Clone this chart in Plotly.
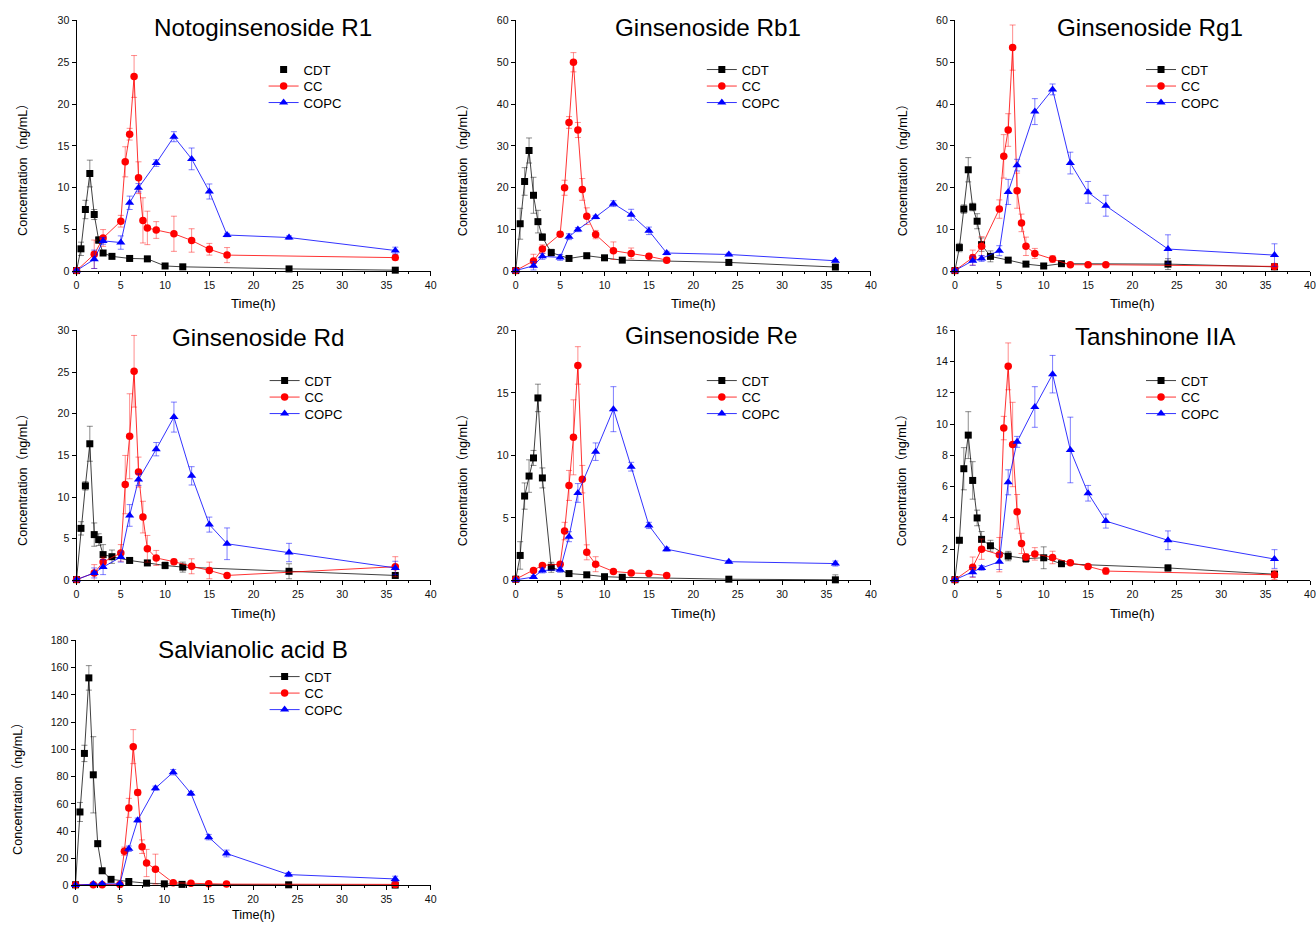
import plotly.graph_objects as go

# ---------------- DATA ----------------
T_CDT = [0, 0.5, 1, 1.5, 2, 2.5, 3, 4, 6, 8, 10, 12, 24, 36]
T_CC = [0, 2, 3, 5, 5.5, 6, 6.5, 7, 7.5, 8, 9, 11, 13, 15, 17, 36]
T_COPC = [0, 2, 3, 5, 6, 7, 9, 11, 13, 15, 17, 24, 36]

SERIES = ["CDT", "CC", "COPC"]
COMPOUNDS = ["Notoginsenoside R1", "Ginsenoside Rb1", "Ginsenoside Rg1",
             "Ginsenoside Rd", "Ginsenoside Re", "Tanshinone IIA",
             "Salvianolic acid B"]
Y_MAX = [30, 60, 60, 30, 20, 16, 180]
Y_DTICK = [5, 10, 10, 5, 5, 2, 20]
X_TICKS = [0, 5, 10, 15, 20, 25, 30, 35, 40]

# Notoginsenoside R1
R1_CDT = [0.1, 2.7, 7.4, 11.7, 6.8, 3.75, 2.2, 1.8, 1.55, 1.5, 0.65, 0.55, 0.3, 0.15]
R1_CDT_SD = [0, 0.8, 1.1, 1.6, 0.6, 0.4, 0.3, 0.2, 0.3, 0.3, 0.2, 0.1, 0.1, 0.1]
R1_CC = [0.1, 2.05, 4.0, 6.0, 13.1, 16.4, 23.3, 11.2, 6.1, 5.2, 4.95, 4.5, 3.7, 2.65, 1.95, 1.65]
R1_CC_SD = [0, 1.7, 1.0, 0.7, 1.8, 0.7, 2.5, 1.9, 2.7, 2.0, 1.0, 2.1, 1.4, 0.7, 0.9, 0.3]
R1_COPC = [0.1, 1.45, 3.65, 3.45, 8.2, 10.0, 12.95, 16.1, 13.45, 9.55, 4.35, 4.05, 2.5]
R1_COPC_SD = [0, 1.1, 0.4, 0.8, 0.8, 0.5, 0.4, 0.6, 1.3, 0.9, 0.2, 0.2, 0.4]

# Ginsenoside Rb1
RB1_CDT = [0.2, 11.4, 21.5, 28.9, 18.2, 11.9, 8.2, 4.5, 3.1, 3.75, 3.25, 2.7, 2.15, 1.05]
RB1_CDT_SD = [0, 3.7, 3.3, 3.0, 4.3, 2.7, 0.8, 0.8, 0.5, 0.6, 0.5, 0.3, 0.6, 0.5]
RB1_CC = [0.2, 2.5, 5.35, 8.9, 20.0, 35.6, 50.0, 33.8, 19.6, 13.2, 8.8, 4.95, 4.3, 3.6, 2.7, None]
RB1_CC_SD = [0, 1.6, 1.0, 0.5, 1.8, 1.4, 2.3, 1.8, 2.6, 2.0, 1.0, 2.1, 1.3, 0.5, 0.6, 0]
RB1_COPC = [0.2, 1.35, 3.6, 3.35, 8.3, 10.0, 13.0, 16.2, 13.55, 9.7, 4.4, 4.05, 2.55]
RB1_COPC_SD = [0, 1.0, 0.7, 0.7, 0.7, 0.5, 0.4, 0.7, 1.3, 0.9, 0.4, 0.3, 0.3]

# Ginsenoside Rg1
RG1_CDT = [0.2, 5.7, 14.9, 24.3, 15.4, 12.0, 6.4, 3.6, 2.7, 1.75, 1.3, 1.85, 1.75, 1.1]
RG1_CDT_SD = [0, 1.0, 1.0, 2.9, 0.9, 1.8, 1.6, 1.3, 0.4, 0.3, 0.3, 0.3, 1.3, 0.4]
RG1_CC = [0.2, 3.3, 6.0, 14.9, 27.5, 33.8, 53.5, 19.3, 11.6, 6.0, 4.3, 2.95, 1.6, 1.6, 1.6, 1.2]
RG1_CC_SD = [0, 1.8, 2.3, 2.2, 5.2, 3.9, 5.4, 4.2, 2.1, 2.2, 1.2, 0.8, 0.2, 0.2, 0.2, 0.3]
RG1_COPC = [0.2, 2.55, 3.1, 4.95, 19.0, 25.4, 38.2, 43.5, 25.9, 18.9, 15.7, 5.35, 3.9]
RG1_COPC_SD = [0, 1.1, 0.7, 1.2, 3.0, 1.4, 3.1, 1.3, 2.6, 2.6, 2.5, 3.4, 2.7]

# Ginsenoside Rd
RD_CDT = [0.1, 6.25, 11.35, 16.4, 5.5, 4.9, 3.1, 2.85, 2.4, 2.1, 1.8, 1.6, 1.1, 0.6]
RD_CDT_SD = [0, 0.8, 0.5, 2.1, 1.4, 0.7, 1.2, 0.8, 0.3, 0.3, 0.4, 0.6, 0.9, 0.2]
RD_CC = [0.1, 0.9, 2.2, 3.3, 11.5, 17.3, 25.1, 13.0, 7.6, 3.8, 2.7, 2.25, 1.7, 1.2, 0.6, 1.65]
RD_CC_SD = [0, 1.0, 0.6, 1.0, 3.5, 5.1, 4.3, 1.8, 1.9, 1.6, 0.9, 0.3, 0.9, 1.0, 0.2, 1.2]
RD_COPC = [0.1, 0.9, 1.6, 2.8, 7.8, 12.1, 15.75, 19.6, 12.55, 6.7, 4.4, 3.35, 1.5]
RD_COPC_SD = [0, 0.6, 0.9, 0.6, 1.3, 0.7, 0.8, 1.8, 1.1, 0.9, 1.9, 1.1, 0.8]

# Ginsenoside Re
RE_CDT = [0.1, 2.0, 6.75, 8.35, 9.8, 14.6, 8.2, 1.05, 0.55, 0.45, 0.3, 0.25, 0.1, 0.05]
RE_CDT_SD = [0, 1.1, 1.05, 1.3, 0.6, 1.1, 0.8, 0.4, 0.1, 0.2, 0.1, 0.1, 0.15, 0.4]
RE_CC = [0.1, 0.8, 1.2, 1.3, 3.95, 7.6, 11.45, 17.2, 8.1, 2.25, 1.3, 0.72, 0.6, 0.55, 0.4, None]
RE_CC_SD = [0, 0.1, 0.1, 0.1, 0.7, 1.2, 3.0, 1.5, 1.1, 0.6, 0.6, 0.1, 0.1, 0.1, 0.1, 0]
RE_COPC = [0.05, 0.27, 0.8, 0.85, 3.5, 7.0, 10.3, 13.7, 9.1, 4.4, 2.5, 1.5, 1.35]
RE_COPC_SD = [0, 0.1, 0.2, 0.2, 0.4, 0.75, 0.7, 1.8, 0.35, 0.25, 0.15, 0.1, 0.2]

# Tanshinone IIA
TA_CDT = [0.05, 2.57, 7.15, 9.3, 6.4, 4.0, 2.63, 2.22, 1.56, 1.4, 1.45, 1.07, 0.8, 0.4]
TA_CDT_SD = [0, 0.1, 1.35, 1.5, 1.2, 0.5, 0.5, 0.35, 0.3, 0.25, 0.7, 0.1, 0.2, 0.1]
TA_CC = [0.05, 0.85, 2.0, 1.65, 9.75, 13.7, 8.7, 4.4, 2.37, 1.5, 1.7, 1.47, 1.13, 0.9, 0.6, 0.36]
TA_CC_SD = [0, 0.65, 0.65, 1.1, 0.75, 1.5, 2.7, 1.1, 0.65, 0.2, 0.4, 0.4, 0.1, 0.1, 0.2, 0.3]
TA_COPC = [0.05, 0.53, 0.8, 1.2, 6.28, 8.87, 11.1, 13.2, 8.35, 5.58, 3.8, 2.57, 1.37]
TA_COPC_SD = [0, 0.3, 0.15, 0.5, 0.8, 0.35, 1.3, 1.2, 2.1, 0.5, 0.45, 0.6, 0.6]

# Salvianolic acid B
SA_CDT = [0.5, 54, 97, 152.5, 81.3, 30.7, 10.8, 4.5, 2.9, 1.7, 1.2, 0.8, 0.5, 0.3]
SA_CDT_SD = [0, 7, 6, 9, 28, 2, 1, 0.5, 1.5, 0.5, 0.3, 0.3, 0.3, 0.2]
SA_CC = [0.5, 0.5, 0.5, 0.8, 25.2, 57, 102, 68.3, 28.5, 16.5, 12.0, 2.0, 1.6, 1.2, 1.0, 0.8]
SA_CC_SD = [0, 0.3, 0.3, 0.3, 3, 7, 12.5, 2, 5, 10, 11, 0.5, 0.3, 0.3, 0.2, 0.2]
SA_COPC = [0.3, 1.0, 1.2, 1.2, 27, 48, 71.5, 83.2, 67.6, 35.5, 23.5, 8.0, 4.8]
SA_COPC_SD = [0, 0.5, 0.5, 0.5, 2, 1.5, 1.5, 2, 1.5, 2, 2.5, 1.5, 2]

DATA = [
    (R1_CDT, R1_CDT_SD, R1_CC, R1_CC_SD, R1_COPC, R1_COPC_SD),
    (RB1_CDT, RB1_CDT_SD, RB1_CC, RB1_CC_SD, RB1_COPC, RB1_COPC_SD),
    (RG1_CDT, RG1_CDT_SD, RG1_CC, RG1_CC_SD, RG1_COPC, RG1_COPC_SD),
    (RD_CDT, RD_CDT_SD, RD_CC, RD_CC_SD, RD_COPC, RD_COPC_SD),
    (RE_CDT, RE_CDT_SD, RE_CC, RE_CC_SD, RE_COPC, RE_COPC_SD),
    (TA_CDT, TA_CDT_SD, TA_CC, TA_CC_SD, TA_COPC, TA_COPC_SD),
    (SA_CDT, SA_CDT_SD, SA_CC, SA_CC_SD, SA_COPC, SA_COPC_SD),
]

# ---------------- LAYOUT / STYLE ----------------
W, H = 1316, 929
FONT = "Arial, 'Liberation Sans', 'Noto Sans CJK SC', sans-serif"

# target positions (pixels of the reference picture)
COLS = [(76, 430), (515, 870), (954, 1309)]
ROWS = [(20, 271), (330, 580), (640, 885)]
GRID = [(0, 0), (1, 0), (2, 0), (0, 1), (1, 1), (2, 1), (0, 2)]
TITLE_POS = [(262, 27), (707, 27), (1149, 27), (257, 337), (710, 335), (1154, 336), (252, 649)]
LEGEND_POS = [(263, 69), (701, 69), (1140, 69), (264, 380), (701, 380), (1140, 380), (264, 676)]
XTITLE_Y = [303, 613, None]   # last row: sits on the bottom edge
YTITLE_X = [23, 463, 902]
YTITLE_Y = [166, 476, 785]
LEG_STEP = 16.5

# compensation for the capture framing (picture px = OFF + SC * figure px)
OFF_X, SC_X = 2.5, 0.9927
OFF_Y, SC_Y = 5.6, 0.987
FS = 1.0 / ((SC_X + SC_Y) / 2)

STYLES = {
    "CDT": dict(color="#000000", symbol="square", size=7,
                line="rgba(0,0,0,0.75)", err="rgba(0,0,0,0.45)"),
    "CC": dict(color="#ff0000", symbol="circle", size=7.5,
               line="rgba(255,0,0,0.8)", err="rgba(255,0,0,0.45)"),
    "COPC": dict(color="#0000ff", symbol="triangle-up", size=8,
                 line="rgba(0,0,255,0.8)", err="rgba(0,0,255,0.5)"),
}
TIMES = {"CDT": T_CDT, "CC": T_CC, "COPC": T_COPC}


def clamp(v):
    return max(0.0, min(1.0, v))


def px_x(p):
    return clamp(((p - OFF_X) / SC_X) / W)


def px_y(p):
    return clamp(1 - ((p - OFF_Y) / SC_Y) / H)


fig = go.Figure()
layout = dict(
    width=W, height=H, margin=dict(l=0, r=0, t=0, b=0),
    paper_bgcolor="white", plot_bgcolor="white",
    font=dict(family=FONT, color="black"),
    annotations=[],
)

leg_idx = 0
for k, name in enumerate(COMPOUNDS):
    c, r = GRID[k]
    x0, x1 = COLS[c]
    if k == 6:
        x0 = 75
    y0, y1 = ROWS[r]
    sfx = "" if k == 0 else str(k + 1)
    xa, ya = "x" + sfx, "y" + sfx

    axis_common = dict(
        showline=True, linecolor="black", linewidth=1,
        ticks="outside", ticklen=4, tickwidth=1, tickcolor="black",
        showgrid=False, zeroline=False,
        tickfont=dict(size=10.5 * FS, family=FONT, color="#111"),
    )
    layout["xaxis" + sfx] = dict(
        domain=[px_x(x0), px_x(x1)], range=[0, 40], anchor=ya,
        tickmode="array", tickvals=X_TICKS,
        minor=dict(dtick=2.5, ticks="outside", ticklen=2, tickcolor="black", showgrid=False),
        **axis_common)
    layout["yaxis" + sfx] = dict(
        domain=[px_y(y1), px_y(y0)], range=[0, Y_MAX[k]], anchor=xa,
        dtick=Y_DTICK[k], tick0=0, **axis_common)

    vals = DATA[k]
    for s_i, sname in enumerate(SERIES):
        st = STYLES[sname]
        y = vals[2 * s_i]
        sd = vals[2 * s_i + 1]
        leg_idx += 1
        lname = "legend" if leg_idx == 1 else "legend%d" % leg_idx
        lx, ly = LEGEND_POS[k]
        cy = ly + s_i * LEG_STEP
        layout[lname] = dict(
            x=px_x(lx), y=px_y(cy - 14.9), xanchor="left", yanchor="top",
            bgcolor="rgba(0,0,0,0)", borderwidth=0, itemwidth=30,
            font=dict(size=13 * FS, family=FONT, color="black"),
        )
        only_marker_legend = (k == 0 and sname == "CDT")
        fig.add_trace(go.Scatter(
            x=TIMES[sname], y=y, mode="lines+markers", name=sname,
            xaxis=xa, yaxis=ya, cliponaxis=False,
            line=dict(color=st["line"], width=1),
            marker=dict(symbol=st["symbol"], size=st["size"], color=st["color"],
                        line=dict(width=0)),
            error_y=dict(type="data", array=sd, visible=True, color=st["err"],
                         thickness=1, width=3),
            legend=lname, showlegend=not only_marker_legend,
        ))
        if only_marker_legend:
            fig.add_trace(go.Scatter(
                x=[None], y=[None], mode="markers", name=sname,
                xaxis=xa, yaxis=ya,
                marker=dict(symbol=st["symbol"], size=st["size"], color=st["color"]),
                legend=lname, showlegend=True,
            ))

    tx, ty = TITLE_POS[k]
    layout["annotations"].append(dict(
        text=name, x=px_x(tx), y=px_y(ty), xref="paper", yref="paper",
        xanchor="center", yanchor="middle", showarrow=False,
        font=dict(size=24 * FS, family=FONT, color="black")))
    if XTITLE_Y[r] is None:
        xt_y, xt_anchor, xt_size = 0.0, "bottom", 12.5
    else:
        xt_y, xt_anchor, xt_size = px_y(XTITLE_Y[r]), "middle", 13
    layout["annotations"].append(dict(
        text="Time(h)", x=px_x((x0 + x1) / 2), y=xt_y, borderpad=0,
        xref="paper", yref="paper", xanchor="center", yanchor=xt_anchor,
        showarrow=False, font=dict(size=xt_size * FS, family=FONT, color="black")))
    yx = YTITLE_X[c] if k != 6 else 18
    layout["annotations"].append(dict(
        text="Concentration（ng/mL）", x=px_x(yx), y=px_y(YTITLE_Y[r]),
        xref="paper", yref="paper", xanchor="center", yanchor="middle",
        textangle=-90, showarrow=False,
        font=dict(size=12.5 * FS, family=FONT, color="black")))

fig.update_layout(**layout)
fig.write_html("out.html", config={"displayModeBar": False})
